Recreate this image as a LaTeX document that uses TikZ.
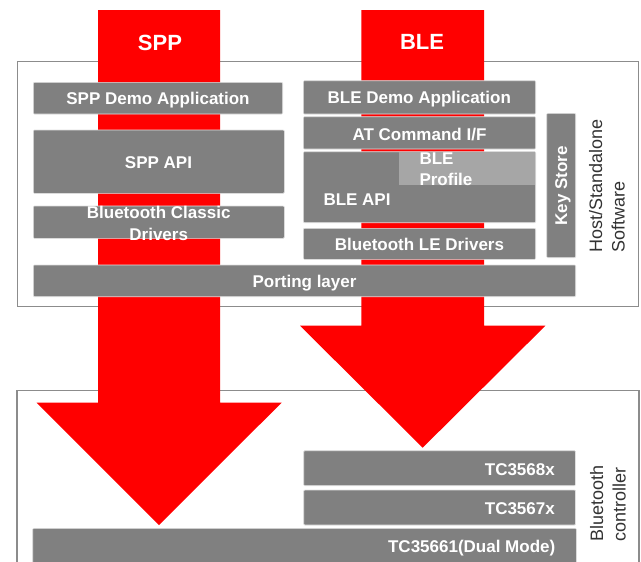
\documentclass[tikz,border=0pt]{standalone}
\usepackage{fontspec}
\setmainfont{Liberation Sans}
\begin{document}
\begin{tikzpicture}[x=1pt,y=-1pt,
  outer/.style={draw=black!45,line width=1.5pt},
  redarrow/.style={fill=red,draw=none},
  blk/.style={fill=black!50,draw=black!12,line width=0.6pt,rounded corners=1pt},
  lblk/.style={fill=black!35,draw=none},
  btxt/.style={text=white,font=\fontsize{17}{22}\selectfont\bfseries,inner sep=0pt},
  bigtxt/.style={text=white,font=\fontsize{22}{26}\selectfont\bfseries,inner sep=0pt},
  sidetxt/.style={text=black!80,font=\fontsize{18}{22}\selectfont,inner sep=0pt,rotate=90,anchor=base west}]
\useasboundingbox (0,0) rectangle (641,562);
% outer frames
\draw[outer] (17.3,61.7) rectangle (638.3,306.7);
\draw[outer] (17.2,390.7) rectangle (639,575);
% red arrows
\fill[redarrow] (98,10) -- (220,10) -- (220,402.7) -- (281.6,402.7) -- (159,525) -- (36.6,402.7) -- (98,402.7) -- cycle;
\fill[redarrow] (361.3,10) -- (484,10) -- (484,325.7) -- (545.4,325.7) -- (422.7,447.7) -- (300,325.7) -- (361.3,325.7) -- cycle;
\node[bigtxt,anchor=base] (spp) at (160,50.5) {SPP};
\node[bigtxt,anchor=base] (ble) at (422,49.5) {BLE};
% host blocks
\draw[blk] (33.3,82.3) rectangle (282.7,114) coordinate (sda);
\draw[blk] (33.3,130) rectangle (284.3,193.3);
\draw[blk] (33.3,206) rectangle (284.3,238.3);
\draw[blk] (33.3,265) rectangle (575.7,296.7);
\draw[blk] (303.3,80.7) rectangle (535.7,114);
\draw[blk] (303.3,116.7) rectangle (535.7,149);
\draw[blk] (303.3,151.7) rectangle (535.7,222.7);
\fill[lblk] (399,152) rectangle (535.3,185);
\draw[blk] (303.3,228.3) rectangle (535.7,259.3);
\draw[blk] (546.7,113.3) rectangle (575.7,257.7);
% host texts
\node[btxt,anchor=base] (t1) at (158,104.3) {SPP Demo Application};
\node[btxt,anchor=base] (t2) at (158.5,168.3) {SPP API};
\node[btxt,anchor=base] (t3) at (158.7,218.1) {Bluetooth Classic};
\node[btxt,anchor=base] (t4) at (158.7,240.1) {Drivers};
\node[btxt,anchor=base] (t5) at (419.3,103.4) {BLE Demo Application};
\node[btxt,anchor=base] (t6) at (419.5,140.8) {AT Command I/F};
\node[btxt,anchor=base west] (t7) at (323.3,205.4) {BLE API};
\node[btxt,anchor=base west] (t8) at (419.3,164.1) {BLE};
\node[btxt,anchor=base west] (t9) at (419.3,185.4) {Profile};
\node[btxt,anchor=base] (t10) at (419.5,250.4) {Bluetooth LE Drivers};
\node[btxt,anchor=base] (t11) at (304.5,287.8) {Porting layer};
\node[btxt,rotate=90,anchor=base] (ks) at (567,185.6) {Key Store};
\node[sidetxt] (hs1) at (602,252.3) {Host/Standalone};
\node[sidetxt] (hs2) at (624.5,252.3) {Software};
% controller blocks
\draw[blk] (303.7,450.7) rectangle (575.5,485.7);
\draw[blk] (303.7,490) rectangle (575.5,525);
\draw[blk] (32.7,528.3) rectangle (576.3,570);
\node[btxt,anchor=base east] (c1) at (555,475.1) {TC3568x};
\node[btxt,anchor=base east] (c2) at (555,514.4) {TC3567x};
\node[btxt,anchor=base east] (c3) at (555.5,552.8) {TC35661(Dual Mode)};
\node[sidetxt] (bc1) at (603,541.7) {Bluetooth};
\node[sidetxt] (bc2) at (625.5,541.7) {controller};
\end{tikzpicture}
\end{document}
